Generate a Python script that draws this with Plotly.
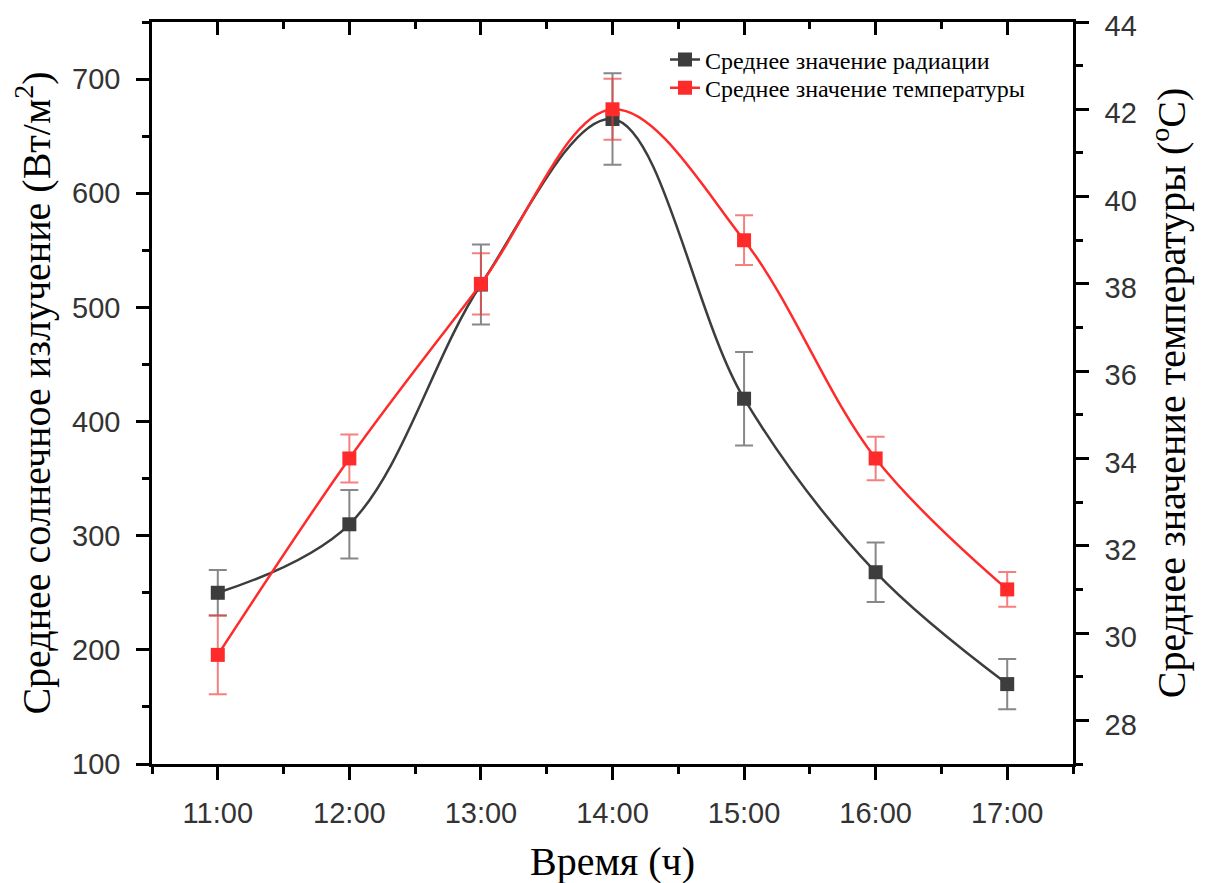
import plotly.graph_objects as go

hours = ["11:00", "12:00", "13:00", "14:00", "15:00", "16:00", "17:00"]
x_pos = [0, 1, 2, 3, 4, 5, 6]
radiation = [250, 310, 520, 665, 420, 268, 170]
radiation_err = [20, 30, 35, 40, 41, 26, 22]
temperature = [29.5, 34.0, 38.0, 42.0, 39.0, 34.0, 31.0]
temperature_err = [0.9, 0.55, 0.7, 0.7, 0.57, 0.5, 0.4]

GRAY = "#3d3d3d"
RED = "#ff2b2b"
SERIF = "Liberation Serif, Times New Roman, serif"
SANS = "Liberation Sans, Arial, sans-serif"
TICKFONT = dict(family=SANS, size=29, color="#333333")
TITLEFONT = dict(family=SERIF, size=40, color="black")
LEGENDFONT = dict(family=SERIF, size=24, color="black")

fig = go.Figure()

fig.add_trace(go.Scatter(
    x=x_pos, y=radiation, mode="lines+markers",
    name="Среднее значение радиации", legend="legend",
    line=dict(color=GRAY, width=2.5, shape="spline", smoothing=1.0),
    marker=dict(symbol="square", size=14, color=GRAY),
    error_y=dict(type="data", array=radiation_err, visible=True,
                 color="rgba(70,70,70,0.65)", thickness=2, width=9),
    xaxis="x", yaxis="y",
))

fig.add_trace(go.Scatter(
    x=x_pos, y=temperature, mode="lines+markers",
    name="Среднее значение температуры", legend="legend2",
    line=dict(color=RED, width=2.5, shape="spline", smoothing=1.0),
    marker=dict(symbol="square", size=14, color=RED),
    error_y=dict(type="data", array=temperature_err, visible=True,
                 color="rgba(240,60,60,0.65)", thickness=2, width=9),
    xaxis="x", yaxis="y2",
))

# invisible helper trace for the top (mirror) axis
fig.add_trace(go.Scatter(
    x=[x_pos[0]], y=[radiation[0]], mode="markers", opacity=0,
    showlegend=False, hoverinfo="skip", xaxis="x2", yaxis="y",
))

fig.update_layout(
    width=1209, height=883,
    paper_bgcolor="white", plot_bgcolor="white",
    margin=dict(l=144, r=144, t=14, b=127, autoexpand=False),
    showlegend=True,
    legend=dict(
        x=0.557, y=0.949, xanchor="left", yanchor="middle",
        bgcolor="rgba(0,0,0,0)", borderwidth=0,
        font=LEGENDFONT, itemwidth=30,
    ),
    legend2=dict(
        x=0.557, y=0.911, xanchor="left", yanchor="middle",
        bgcolor="rgba(0,0,0,0)", borderwidth=0,
        font=LEGENDFONT, itemwidth=30,
    ),
    xaxis=dict(
        range=[-0.5, 6.5], tickmode="array", tickvals=x_pos, ticktext=hours,
        showgrid=False, zeroline=False,
        showline=True, linecolor="black", linewidth=2.5,
        ticks="outside", ticklen=13, tickwidth=2.5, tickcolor="black",
        minor=dict(ticks="outside", ticklen=7, tickwidth=2.5, tickcolor="black", dtick=0.5, tick0=-0.5),
        tickfont=TICKFONT,
        ticklabelstandoff=8,
        title=dict(text="Время (ч)", font=TITLEFONT, standoff=20),
    ),
    xaxis2=dict(
        range=[-0.5, 6.5], overlaying="x", side="top", tickmode="array", tickvals=x_pos,
        showticklabels=False, showgrid=False, zeroline=False,
        showline=True, linecolor="black", linewidth=2.5,
        ticks="inside", ticklen=13, tickwidth=2.5, tickcolor="black",
        minor=dict(ticks="inside", ticklen=7, tickwidth=2.5, tickcolor="black", dtick=0.5, tick0=-0.5),
    ),
    yaxis=dict(
        range=[100, 750], tickmode="linear", tick0=100, dtick=100,
        showgrid=False, zeroline=False,
        showline=True, linecolor="black", linewidth=2.5,
        ticks="outside", ticklen=13, tickwidth=2.5, tickcolor="black",
        minor=dict(ticks="outside", ticklen=7, tickwidth=2.5, tickcolor="black", dtick=50),
        tickfont=TICKFONT,
        ticklabelstandoff=10,
        title=dict(text="Среднее солнечное излучение (Вт/м<sup>2</sup>)",
                   font=TITLEFONT, standoff=16),
    ),
    yaxis2=dict(
        range=[27, 44], overlaying="y", side="right", tickmode="linear", tick0=28, dtick=2,
        showgrid=False, zeroline=False, automargin=False,
        showline=True, linecolor="black", linewidth=2.5,
        ticks="outside", ticklen=13, tickwidth=2.5, tickcolor="black",
        minor=dict(ticks="outside", ticklen=7, tickwidth=2.5, tickcolor="black", dtick=1),
        tickfont=TICKFONT,
        ticklabelstandoff=10,
        ticklabelshift=4,
        ticklabeloverflow="allow",
        title=dict(text="Среднее значение температуры (<sup>o</sup>C)",
                   font=TITLEFONT, standoff=22),
    ),
)

fig.write_html("out.html")
